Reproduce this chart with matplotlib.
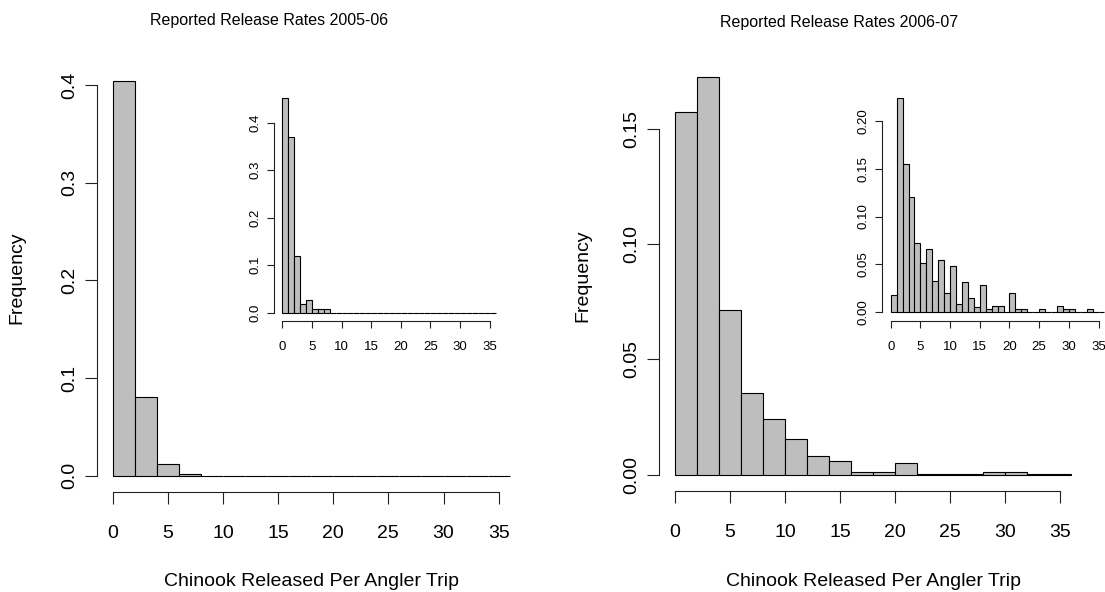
import numpy as np
import matplotlib.pyplot as plt

plt.rcParams['font.family'] = ['Liberation Sans', 'DejaVu Sans']

# release-rate densities, 2 fish bins for the main panels, 1 fish bins for the insets
main_05_06 = [0.404, 0.081, 0.0118, 0.002, 0, 0, 0, 0, 0, 0, 0, 0, 0, 0, 0, 0, 0, 0]
inset_05_06 = [0.451, 0.369, 0.119, 0.018, 0.027, 0.007, 0.007, 0.007] + [0] * 28

main_06_07 = [0.157, 0.1723, 0.0714, 0.0356, 0.0240, 0.0153, 0.0081, 0.0058, 0.0010,
              0.0010, 0.0049, 0.0003, 0.0003, 0.0001, 0.0010, 0.0010, 0.0004, 0.0004]
inset_06_07 = [0.0177, 0.2233, 0.1548, 0.1203, 0.072, 0.052, 0.0657, 0.0323, 0.0546,
               0.0201, 0.0483, 0.0087, 0.032, 0.0146, 0.0059, 0.0282, 0.0038, 0.0063,
               0.0063, 0, 0.0201, 0.004, 0.004, 0, 0, 0.004, 0, 0, 0.0063, 0.004,
               0.004, 0, 0, 0.004, 0, 0]

x_ticks = [0, 5, 10, 15, 20, 25, 30, 35]
y_ticks_05 = [0.0, 0.1, 0.2, 0.3, 0.4]
y_labels_05 = ["0.0", "0.1", "0.2", "0.3", "0.4"]
y_ticks_06 = [0.0, 0.05, 0.10, 0.15]
y_labels_06 = ["0.00", "0.05", "0.10", "0.15"]
y_ticks_06i = [0.0, 0.05, 0.10, 0.15, 0.20]
y_labels_06i = ["0.00", "0.05", "0.10", "0.15", "0.20"]

titles = ["Reported Release Rates 2005-06", "Reported Release Rates 2006-07"]
xlab = "Chinook Released Per Angler Trip"
ylab = "Frequency"

W, H = 1105, 592
fig = plt.figure(figsize=(W / 100, H / 100), dpi=100)


def box(x0, x1, y0, y1):
    # pixel box (top-left origin) -> axes
    return fig.add_axes([x0 / W, 1 - y1 / H, (x1 - x0) / W, (y1 - y0) / H])


def r_hist(ax, dens, width, yt, ylabels, fs, tlen, xpad, ypad):
    dens = np.array(dens)
    edges = np.arange(len(dens) + 1) * width
    ax.bar(edges[:-1], dens, width=width, align='edge', color='#BEBEBE',
           edgecolor='black', linewidth=0.8)
    xmax = edges[-1]
    ax.set_xlim(-0.04 * xmax, xmax * 1.04)
    ax.set_ylim(-0.04 * dens.max(), dens.max() * 1.04)
    for s in ['top', 'right']:
        ax.spines[s].set_visible(False)
    ax.spines['left'].set_bounds(yt[0], yt[-1])
    ax.spines['bottom'].set_bounds(x_ticks[0], x_ticks[-1])
    for s in ['left', 'bottom']:
        ax.spines[s].set_linewidth(0.8)
        ax.spines[s].set_color('#222222')
    ax.set_xticks(x_ticks)
    ax.set_xticklabels([str(t) for t in x_ticks], fontsize=fs)
    ax.set_yticks(yt)
    ax.set_yticklabels(ylabels, fontsize=fs, rotation=90, va='center')
    ax.tick_params(axis='x', length=tlen, width=0.8, color='#222222', pad=xpad)
    ax.tick_params(axis='y', length=tlen, width=0.8, color='#222222', pad=ypad)
    ax.patch.set_alpha(0)


# 2005-06
ax1 = box(96.7, 525.6, 65.3, 491.7)
r_hist(ax1, main_05_06, 2, y_ticks_05, y_labels_05, 14, 8.5, 15.5, 5)
ax1i = box(273.8, 504.1, 89.9, 321.3)
r_hist(ax1i, inset_05_06, 1, y_ticks_05, y_labels_05, 9.5, 5, 9.5, 4)

# 2006-07
ax2 = box(659.2, 1086.8, 61.3, 490.6)
r_hist(ax2, main_06_07, 2, y_ticks_06, y_labels_06, 14, 8.5, 15.5, 5)
ax2i = box(882.15, 1113.0, 89.8, 320.9)
r_hist(ax2i, inset_06_07, 1, y_ticks_06i, y_labels_06i, 9.5, 5, 9.5, 4)

fig.text(269 / W, 1 - 20 / H, titles[0], fontsize=11.5, ha='center', va='center')
fig.text(839 / W, 1 - 22 / H, titles[1], fontsize=11.5, ha='center', va='center')
fig.text(311 / W, 1 - 581 / H, xlab, fontsize=14, ha='center', va='center')
fig.text(873 / W, 1 - 581 / H, xlab, fontsize=14, ha='center', va='center')
fig.text(17 / W, 1 - 278 / H, ylab, fontsize=14, ha='center', va='center', rotation=90)
fig.text(583 / W, 1 - 276 / H, ylab, fontsize=14, ha='center', va='center', rotation=90)

fig.savefig("out.png", dpi=100)
